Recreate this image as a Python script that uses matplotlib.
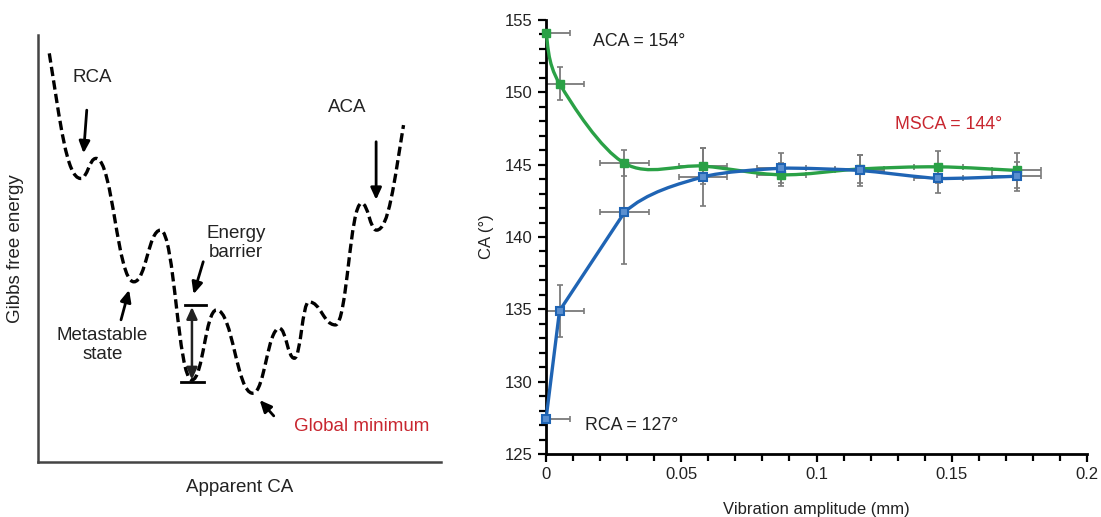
import matplotlib
matplotlib.use("Agg")
import matplotlib.pyplot as plt
import numpy as np
from matplotlib.path import Path
from matplotlib.patches import PathPatch
from matplotlib.ticker import MultipleLocator

plt.rcParams['font.family'] = ['Liberation Sans', 'DejaVu Sans']

# --- left panel: schematic energy landscape (arbitrary units 0-100) ---
curve_x = [2.8, 10.6, 14.4, 23.8, 30.4, 38.2, 44.3, 53.3, 59.9, 63.6, 67.2, 73.8, 80.3, 84.0, 90.7]
curve_y = [95.7, 66.4, 71.1, 42.2, 54.3, 19.2, 35.6, 16.1, 31.3, 24.3, 37.5, 32.1, 60.6, 54.3, 78.9]

# --- right panel: contact angle vs vibration amplitude ---
amp = [0.0, 0.005, 0.029, 0.058, 0.087, 0.116, 0.145, 0.174]
aca = [154.1, 150.6, 145.1, 144.9, 144.3, 144.7, 144.85, 144.6]
aca_err = [0.0, 1.15, 0.9, 1.25, 0.8, 1.0, 1.1, 1.2]
rca = [127.4, 134.9, 141.7, 144.15, 144.75, 144.6, 144.05, 144.2]
rca_err = [0.0, 1.8, 3.6, 2.0, 1.05, 1.1, 1.0, 1.0]
amp_err = 0.009

TXT = '#222222'
RED = '#c8262f'
GREEN = '#2aa146'
BLUE = '#1f64b4'


def bezier_landscape(x, y):
    # smooth S-shaped segments with flat tangents at the extrema
    verts = [(x[0], y[0])]
    codes = [Path.MOVETO]
    n = len(x)
    for i in range(n - 1):
        x0, y0, x1, y1 = x[i], y[i], x[i + 1], y[i + 1]
        dx = x1 - x0
        if i == 0:
            c1 = (x0 + 0.35 * dx, y0 + 0.55 * (y1 - y0))
        else:
            c1 = (x0 + 0.45 * dx, y0)
        if i == n - 2:
            c2 = (x1 - 0.35 * dx, y1 - 0.55 * (y1 - y0))
        else:
            c2 = (x1 - 0.45 * dx, y1)
        verts += [c1, c2, (x1, y1)]
        codes += [Path.CURVE4] * 3
    return Path(verts, codes)


def spline_path(x, y, tension):
    # Catmull-Rom through the data points, as cubic Bezier (tension per segment)
    p = np.column_stack([x, y])
    p = np.vstack([p[0], p, p[-1]])
    verts = [tuple(p[1])]
    codes = [Path.MOVETO]
    for i in range(1, len(p) - 2):
        t = tension[i - 1]
        c1 = p[i] + t * (p[i + 1] - p[i - 1]) / 6
        c2 = p[i + 1] - t * (p[i + 2] - p[i]) / 6
        verts += [tuple(c1), tuple(c2), tuple(p[i + 1])]
        codes += [Path.CURVE4] * 3
    return Path(verts, codes)


fig = plt.figure(figsize=(11.01, 5.17), dpi=100)

# ---------------- left panel ----------------
axL = fig.add_axes([38 / 1101, 1 - 462 / 517, 403 / 1101, 427 / 517])
axL.set_xlim(0, 100)
axL.set_ylim(0, 100)
for s in ['top', 'right']:
    axL.spines[s].set_visible(False)
for s in ['left', 'bottom']:
    axL.spines[s].set_color('#444444')
    axL.spines[s].set_linewidth(1.8)
axL.set_xticks([])
axL.set_yticks([])

axL.add_patch(PathPatch(bezier_landscape(curve_x, curve_y), fill=False,
                        edgecolor='black', lw=2.4, linestyle=(0, (2.8, 1.3))))

FS = 13.5
arr = dict(arrowstyle='-|>,head_length=0.7,head_width=0.32', color='black', lw=2.0,
           shrinkA=0, shrinkB=0)
axL.text(13.5, 90.1, 'RCA', ha='center', va='center', fontsize=FS, color=TXT)
axL.annotate('', xy=(11.3, 72.3), xytext=(12.1, 82.4), arrowprops=arr)
axL.text(76.8, 83.1, 'ACA', ha='center', va='center', fontsize=FS, color=TXT)
axL.annotate('', xy=(83.9, 61.4), xytext=(83.9, 75.0), arrowprops=arr)
axL.text(49.2, 51.2, 'Energy\nbarrier', ha='center', va='center', fontsize=FS,
         color=TXT, linespacing=1.15)
axL.annotate('', xy=(38.6, 39.3), xytext=(41.0, 46.9), arrowprops=arr)
axL.text(16.0, 27.4, 'Metastable\nstate', ha='center', va='center', fontsize=FS,
         color=TXT, linespacing=1.15)
axL.annotate('', xy=(22.6, 40.3), xytext=(20.6, 33.3), arrowprops=arr)
axL.text(80.3, 8.4, 'Global minimum', ha='center', va='center', fontsize=FS, color=RED)
axL.annotate('', xy=(55.0, 14.5), xytext=(58.5, 10.8), arrowprops=arr)

# energy barrier bracket
axL.plot([36.5, 41.8], [36.8, 36.8], color='black', lw=2.0)
axL.plot([35.5, 41.2], [18.8, 18.8], color='black', lw=2.0)
axL.annotate('', xy=(38.2, 19.3), xytext=(38.2, 36.3),
             arrowprops=dict(arrowstyle='<|-|>,head_length=0.7,head_width=0.32',
                             color='#222222', lw=1.8, shrinkA=0, shrinkB=0))

axL.set_xlabel('Apparent CA', fontsize=FS, color=TXT, labelpad=12)
axL.set_ylabel('Gibbs free energy', fontsize=FS, color=TXT, labelpad=10)

# ---------------- right panel ----------------
axR = fig.add_axes([546 / 1101, 1 - 454 / 517, 541 / 1101, 434 / 517])
axR.set_xlim(0, 0.2)
axR.set_ylim(125, 155)
for s in ['top', 'right']:
    axR.spines[s].set_visible(False)
for s in ['left', 'bottom']:
    axR.spines[s].set_linewidth(2.0)
axR.xaxis.set_minor_locator(MultipleLocator(0.01))
axR.yaxis.set_major_locator(MultipleLocator(5))
axR.yaxis.set_minor_locator(MultipleLocator(1))
axR.set_xticks([0, 0.05, 0.1, 0.15, 0.2])
axR.set_xticklabels(['0', '0.05', '0.1', '0.15', '0.2'])
axR.tick_params(which='both', direction='out', width=1.6, labelsize=12,
                labelcolor=TXT)
axR.tick_params(which='major', length=6)
axR.tick_params(which='minor', length=5)

axR.errorbar(amp, aca, yerr=aca_err, xerr=amp_err, fmt='none', ecolor='#7a7a7a',
             elinewidth=1.3, capsize=2.5, capthick=1.2, zorder=2)
axR.errorbar(amp, rca, yerr=rca_err, xerr=amp_err, fmt='none', ecolor='#7a7a7a',
             elinewidth=1.3, capsize=2.5, capthick=1.2, zorder=2)

axR.add_patch(PathPatch(spline_path(amp, aca, [1.0] * 7), fill=False,
                        edgecolor=GREEN, lw=2.4, zorder=3, clip_on=False))
axR.add_patch(PathPatch(spline_path(amp, rca, [0, 0, 0.9, 0.7, 0.6, 0.6, 0.6]),
                        fill=False, edgecolor=BLUE, lw=2.4, zorder=4, clip_on=False))
axR.plot(amp, aca, 's', color=GREEN, ms=5.5, zorder=5, clip_on=False)
axR.plot(amp, rca, 's', color=BLUE, mfc='#5a8fd0', mec=BLUE, mew=1.5, ms=5.5,
         zorder=6, clip_on=False)

axR.text(0.0175, 153.5, 'ACA = 154°', ha='left', va='center', fontsize=12.8, color=TXT)
axR.text(0.129, 147.8, 'MSCA = 144°', ha='left', va='center', fontsize=12.8,
         color=RED)
axR.text(0.0145, 127.0, 'RCA = 127°', ha='left', va='center', fontsize=12.8, color=TXT)

axR.set_xlabel('Vibration amplitude (mm)', fontsize=12, color=TXT, labelpad=14)
axR.set_ylabel('CA (°)', fontsize=12, color=TXT, labelpad=8)

fig.savefig('out.png', dpi=100)
